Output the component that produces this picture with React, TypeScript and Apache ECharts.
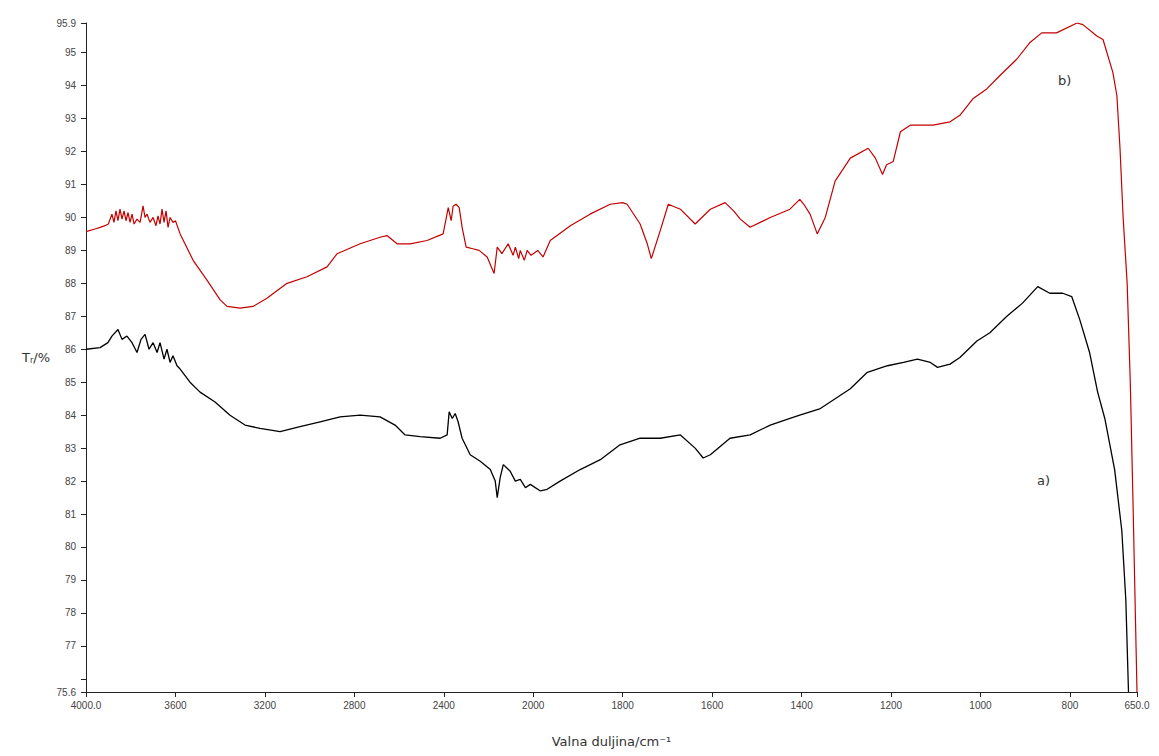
import React, { useEffect, useRef } from "react";
import * as echarts from "echarts";

// Wavenumber tick labels (cm-1); the axis has a scale change at 2000 cm-1
const xTickLabels = ["4000.0", "3600", "3200", "2800", "2400", "2000", "1800", "1600", "1400", "1200", "1000", "800", "650.0"];

// Curve b) (red)
const bWave = [4000, 3960, 3937, 3915, 3900, 3884, 3875, 3866, 3857, 3848, 3839, 3830, 3821, 3812, 3803, 3794, 3785, 3772, 3758, 3745, 3736, 3727, 3714, 3700, 3687, 3678, 3669, 3660, 3651, 3642, 3633, 3624, 3611, 3600, 3579, 3521, 3459, 3400, 3369, 3311, 3253, 3191, 3101, 3012, 2922, 2877, 2774, 2685, 2654, 2609, 2551, 2475, 2403, 2380, 2367, 2358, 2345, 2331, 2318, 2300, 2270, 2242, 2206, 2175, 2161, 2140, 2112, 2090, 2080, 2065, 2058, 2040, 2027, 2010, 2000, 1990, 1978, 1962, 1917, 1873, 1828, 1800, 1790, 1761, 1745, 1736, 1716, 1698, 1671, 1638, 1604, 1571, 1552, 1537, 1515, 1470, 1426, 1404, 1395, 1381, 1365, 1347, 1325, 1291, 1251, 1235, 1219, 1210, 1195, 1179, 1157, 1106, 1068, 1046, 1017, 986, 957, 919, 890, 863, 830, 784, 771, 739, 726, 704, 695, 688, 681, 672, 665, 659, 652, 650];
const bT = [89.57, 89.65, 89.7, 89.75, 89.8, 90.1, 89.85, 90.2, 89.9, 90.25, 89.95, 90.2, 89.9, 90.15, 89.85, 90.1, 89.8, 89.95, 89.85, 90.35, 90.0, 90.1, 89.85, 90.0, 89.75, 90.05, 89.8, 90.25, 89.85, 90.2, 89.7, 90.0, 89.85, 89.9, 89.5, 88.7, 88.1, 87.5, 87.3, 87.25, 87.3, 87.55, 88.0, 88.2, 88.5, 88.9, 89.2, 89.4, 89.45, 89.2, 89.2, 89.3, 89.5, 90.3, 89.9, 90.35, 90.4, 90.3, 89.7, 89.1, 89.05, 89.0, 88.8, 88.3, 89.1, 88.9, 89.2, 88.85, 89.1, 88.75, 89.0, 88.7, 89.0, 88.85, 88.9, 89.0, 88.8, 89.3, 89.75, 90.1, 90.4, 90.45, 90.4, 89.8, 89.2, 88.75, 89.6, 90.4, 90.25, 89.8, 90.25, 90.45, 90.2, 89.95, 89.7, 90.0, 90.25, 90.55, 90.4, 90.1, 89.5, 90.0, 91.1, 91.8, 92.1, 91.8, 91.3, 91.6, 91.7, 92.6, 92.8, 92.8, 92.9, 93.1, 93.6, 93.9, 94.3, 94.8, 95.3, 95.6, 95.6, 95.9, 95.85, 95.5, 95.4, 94.4, 93.7, 92.1, 90.0, 88.0, 85.0, 81.4, 76.9, 75.6];

// Curve a) (black)
const aWave = [4000, 3937, 3902, 3884, 3857, 3839, 3817, 3794, 3772, 3754, 3736, 3718, 3700, 3682, 3669, 3651, 3638, 3624, 3611, 3593, 3579, 3535, 3490, 3423, 3356, 3289, 3222, 3132, 3043, 2953, 2864, 2774, 2685, 2618, 2573, 2506, 2416, 2385, 2376, 2362, 2349, 2336, 2318, 2282, 2237, 2192, 2170, 2161, 2148, 2134, 2103, 2080, 2058, 2035, 2013, 1984, 1969, 1940, 1895, 1850, 1806, 1761, 1716, 1671, 1638, 1620, 1604, 1560, 1515, 1470, 1426, 1404, 1358, 1291, 1253, 1208, 1172, 1141, 1112, 1096, 1068, 1046, 1008, 979, 941, 906, 872, 845, 816, 796, 778, 756, 738, 722, 700, 684, 675, 669];
const aT = [86.0, 86.05, 86.2, 86.4, 86.6, 86.3, 86.4, 86.2, 85.9, 86.3, 86.45, 86.0, 86.2, 85.9, 86.2, 85.7, 86.0, 85.6, 85.8, 85.5, 85.4, 85.0, 84.7, 84.4, 84.0, 83.7, 83.6, 83.5, 83.65, 83.8, 83.95, 84.0, 83.95, 83.7, 83.4, 83.35, 83.3, 83.4, 84.1, 83.9, 84.05, 83.8, 83.3, 82.8, 82.6, 82.35, 82.0, 81.5, 82.1, 82.5, 82.3, 82.0, 82.05, 81.8, 81.9, 81.7, 81.75, 82.0, 82.35, 82.65, 83.1, 83.3, 83.3, 83.4, 83.0, 82.7, 82.8, 83.3, 83.4, 83.7, 83.9, 84.0, 84.2, 84.8, 85.3, 85.5, 85.6, 85.7, 85.6, 85.45, 85.55, 85.75, 86.25, 86.5, 87.0, 87.4, 87.9, 87.7, 87.7, 87.6, 86.9, 85.9, 84.7, 83.9, 82.35, 80.5, 78.4, 75.6];

// piecewise axis scale: 4000..2000 compressed 2x relative to 2000..650
const toPos = (w: number) => (w >= 2000 ? (4000 - w) / 2 : 1000 + (2000 - w));
const fromPos = (p: number) => (p <= 1000 ? 4000 - 2 * p : 2000 - (p - 1000));

export default function App() {
  const ref = useRef<HTMLDivElement>(null);
  useEffect(() => {
    if (!ref.current) return;
    const chart = echarts.init(ref.current, null, { renderer: "svg" });
    const labelMap: Record<number, string> = {};
    const tickWaves = [4000, 3600, 3200, 2800, 2400, 2000, 1800, 1600, 1400, 1200, 1000, 800, 650];
    tickWaves.forEach((w, i) => (labelMap[Math.round(toPos(w))] = xTickLabels[i]));
    const axisFont = { fontFamily: "Liberation Sans, Arial, sans-serif", fontSize: 10, color: "#444" };
    chart.setOption({
      animation: false,
      backgroundColor: "#fff",
      grid: { left: 86, right: 22, top: 23, bottom: 64, containLabel: false },
      xAxis: {
        type: "value",
        min: 0,
        max: toPos(650),
        interval: 200,
        name: "Valna duljina/cm⁻¹",
        nameLocation: "middle",
        nameGap: 43,
        nameTextStyle: { fontFamily: "DejaVu Sans, sans-serif", fontSize: 13, color: "#333" },
        axisLine: { lineStyle: { color: "#222", width: 1 } },
        axisTick: { inside: false, length: 5, lineStyle: { color: "#222" } },
        axisLabel: {
          ...axisFont,
          margin: 8,
          showMinLabel: true,
          showMaxLabel: true,
          formatter: (v: number) => {
            const k = Math.round(v);
            if (labelMap[k] !== undefined) return labelMap[k];
            return String(Math.round(fromPos(v)));
          },
        },
        splitLine: { show: false },
      },
      yAxis: {
        type: "value",
        min: 75.6,
        max: 95.9,
        splitNumber: 20,
        minInterval: 1,
        maxInterval: 1,
        name: "{t|T}{s|r}{t|/%}",
        nameLocation: "middle",
        nameRotate: 0,
        nameGap: 36,
        nameTextStyle: {
          rich: {
            t: { fontFamily: "DejaVu Sans, sans-serif", fontSize: 13, color: "#333" },
            s: { fontFamily: "DejaVu Sans, sans-serif", fontSize: 8, color: "#333", padding: [6, 0, 0, 0] },
          },
        },
        axisLine: { show: true, lineStyle: { color: "#222", width: 1 } },
        axisTick: { show: true, inside: false, length: 5, lineStyle: { color: "#222" } },
        axisLabel: {
          ...axisFont,
          margin: 10,
          showMinLabel: true,
          showMaxLabel: true,
          formatter: (v: number) => {
            if (Math.abs(v - 75.6) < 1e-6) return "75.6";
            if (Math.abs(v - 95.9) < 1e-6) return "95.9";
            if (Math.abs(v - 76) < 1e-6) return "";
            return String(Math.round(v));
          },
        },
        splitLine: { show: false },
      },
      series: [
        {
          name: "a)",
          type: "line",
          showSymbol: false,
          symbol: "none",
          data: aWave.map((w, i) => [toPos(w), aT[i]]),
          lineStyle: { color: "#000", width: 1.3 },
          itemStyle: { color: "#000" },
        },
        {
          name: "b)",
          type: "line",
          showSymbol: false,
          symbol: "none",
          data: bWave.map((w, i) => [toPos(w), bT[i]]),
          lineStyle: { color: "#c40000", width: 1.2 },
          itemStyle: { color: "#c40000" },
        },
      ],
      graphic: [
        { type: "text", left: 1037, top: 474, style: { text: "a)", font: "13px DejaVu Sans, sans-serif", fill: "#333" } },
        { type: "text", left: 1058, top: 74, style: { text: "b)", font: "13px DejaVu Sans, sans-serif", fill: "#333" } },
      ],
    });
    return () => chart.dispose();
  }, []);
  return (
    <div
      ref={ref}
      style={{ position: "fixed", left: 0, top: 0, width: 1159, height: 756, background: "#fff" }}
    />
  );
}
